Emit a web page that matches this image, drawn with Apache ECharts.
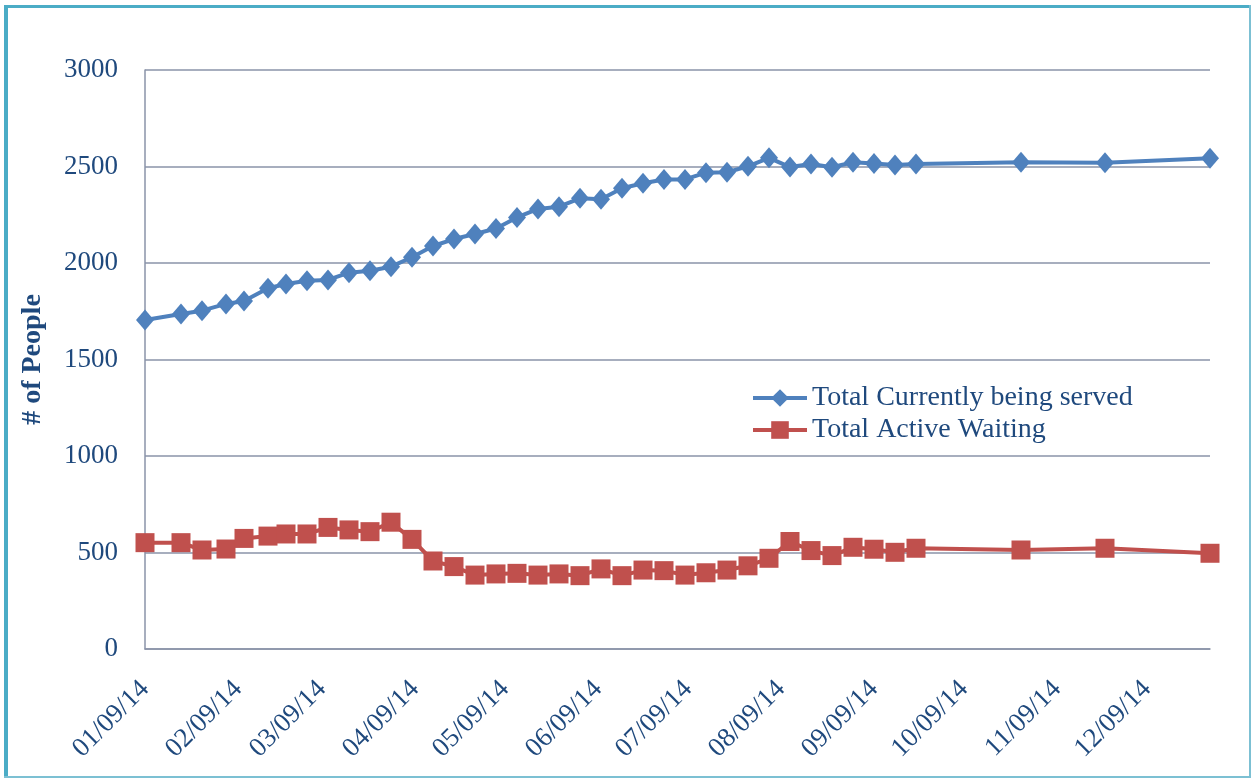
<!DOCTYPE html>
<html>
<head>
<meta charset="utf-8">
<script src="https://cdn.jsdelivr.net/npm/echarts@6/dist/echarts.min.js"></script>
<style>
  html, body { margin: 0; padding: 0; background: #ffffff; }
  #chart { width: 1253px; height: 780px; }
</style>
</head>
<body>
<div id="chart"></div>
<script>
// Report dates (weekly snapshots)
const dates = [
  '2014-01-09', '2014-01-21', '2014-01-28', '2014-02-05', '2014-02-11',
  '2014-02-19', '2014-02-25', '2014-03-04', '2014-03-11', '2014-03-18',
  '2014-03-25', '2014-04-01', '2014-04-08', '2014-04-15', '2014-04-22',
  '2014-04-29', '2014-05-06', '2014-05-13', '2014-05-20', '2014-05-27',
  '2014-06-03', '2014-06-10', '2014-06-17', '2014-06-24', '2014-07-01',
  '2014-07-08', '2014-07-15', '2014-07-22', '2014-07-29', '2014-08-05',
  '2014-08-12', '2014-08-19', '2014-08-26', '2014-09-02', '2014-09-09',
  '2014-09-16', '2014-09-23', '2014-10-28', '2014-11-25', '2014-12-30'
];

// Total currently being served
const served = [
  1705, 1736, 1753, 1788, 1803, 1869, 1891, 1908, 1912, 1950,
  1960, 1981, 2030, 2088, 2124, 2150, 2179, 2236, 2280, 2292,
  2335, 2330, 2387, 2413, 2433, 2433, 2468, 2470, 2501, 2545,
  2497, 2513, 2496, 2522, 2516, 2508, 2513, 2522, 2520, 2543
];

// Total active waiting
const waiting = [
  551, 551, 513, 518, 573, 585, 596, 596, 630, 617,
  608, 657, 568, 456, 427, 383, 389, 392, 383, 389,
  380, 415, 380, 409, 406, 383, 395, 409, 431, 470,
  557, 510, 484, 527, 517, 501, 522, 513, 522, 496
];

// Month labels on the 9th of each month
const labelDates = [
  '2014-01-09', '2014-02-09', '2014-03-09', '2014-04-09', '2014-05-09', '2014-06-09',
  '2014-07-09', '2014-08-09', '2014-09-09', '2014-10-09', '2014-11-09', '2014-12-09'
];

const seriesNames = ['Total Currently being served', 'Total Active Waiting'];

// Dates are placed on a numeric day axis (days since 1 Jan 2014)
const DAY = 86400000;
const BASE = Date.UTC(2014, 0, 1);
function dayNum(s) {
  const p = s.split('-').map(Number);
  return Math.round((Date.UTC(p[0], p[1] - 1, p[2]) - BASE) / DAY);
}
function pad(n) { return (n < 10 ? '0' : '') + n; }
function fmt(v) {
  const d = new Date(BASE + v * DAY);
  return pad(d.getUTCMonth() + 1) + '/' + pad(d.getUTCDate()) + '/' + pad(d.getUTCFullYear() % 100);
}

const FONT = 'Liberation Serif';
const TEXT = '#1F497D';
const GRID = '#8A93A8';
const FRAME = '#4BACC6';

const chart = echarts.init(document.getElementById('chart'), null, { renderer: 'canvas' });

chart.setOption({
  backgroundColor: '#ffffff',
  animation: false,
  grid: { left: 145, right: 43, top: 70, bottom: 131, containLabel: false },
  legend: {
    orient: 'vertical',
    left: 751,
    top: 384,
    padding: 0,
    itemWidth: 54,
    itemHeight: 22,
    itemGap: 4,
    lineStyle: { width: 4 },
    textStyle: { fontFamily: FONT, fontSize: 28, color: TEXT },
    data: seriesNames
  },
  xAxis: {
    type: 'value',
    min: dayNum(dates[0]),
    max: dayNum(dates[dates.length - 1]),
    axisLine: { show: true, onZero: false, lineStyle: { color: GRID, width: 1.5 } },
    axisTick: { show: false },
    splitLine: { show: false },
    axisLabel: {
      customValues: labelDates.map(dayNum),
      formatter: fmt,
      rotate: 45,
      align: 'right',
      verticalAlign: 'middle',
      margin: 36,
      fontFamily: FONT,
      fontSize: 27,
      color: TEXT
    }
  },
  yAxis: {
    type: 'value',
    min: 0,
    max: 3000,
    interval: 500,
    name: '# of People',
    nameLocation: 'middle',
    nameRotate: 90,
    nameGap: 98,
    nameTextStyle: { fontFamily: FONT, fontSize: 28, fontWeight: 'bold', color: TEXT },
    axisLine: { show: true, lineStyle: { color: GRID, width: 1.5 } },
    axisTick: { show: false },
    splitLine: { show: true, lineStyle: { color: GRID, width: 1.5 } },
    axisLabel: {
      margin: 27, fontFamily: FONT, fontSize: 27, color: TEXT,
      formatter: (v) => String(v)
    }
  },
  series: [
    {
      name: seriesNames[0],
      type: 'line',
      data: dates.map((d, i) => [dayNum(d), served[i]]),
      symbol: 'diamond',
      symbolSize: [18, 21],
      lineStyle: { color: '#4F81BD', width: 4 },
      itemStyle: { color: '#4F81BD' },
      z: 3
    },
    {
      name: seriesNames[1],
      type: 'line',
      data: dates.map((d, i) => [dayNum(d), waiting[i]]),
      symbol: 'rect',
      symbolSize: 19,
      lineStyle: { color: '#C0504D', width: 4 },
      itemStyle: { color: '#C0504D' },
      z: 2
    }
  ],
  graphic: [
    { type: 'rect', left: 4, top: 5, shape: { width: 4, height: 773 }, style: { fill: FRAME }, silent: true },
    { type: 'rect', left: 4, top: 5, shape: { width: 1247, height: 3 }, style: { fill: FRAME }, silent: true },
    { type: 'rect', left: 1249, top: 5, shape: { width: 2, height: 773 }, style: { fill: '#7CC0D3' }, silent: true },
    { type: 'rect', left: 4, top: 776, shape: { width: 1247, height: 2 }, style: { fill: '#7CC0D3' }, silent: true }
  ]
});
</script>
</body>
</html>
